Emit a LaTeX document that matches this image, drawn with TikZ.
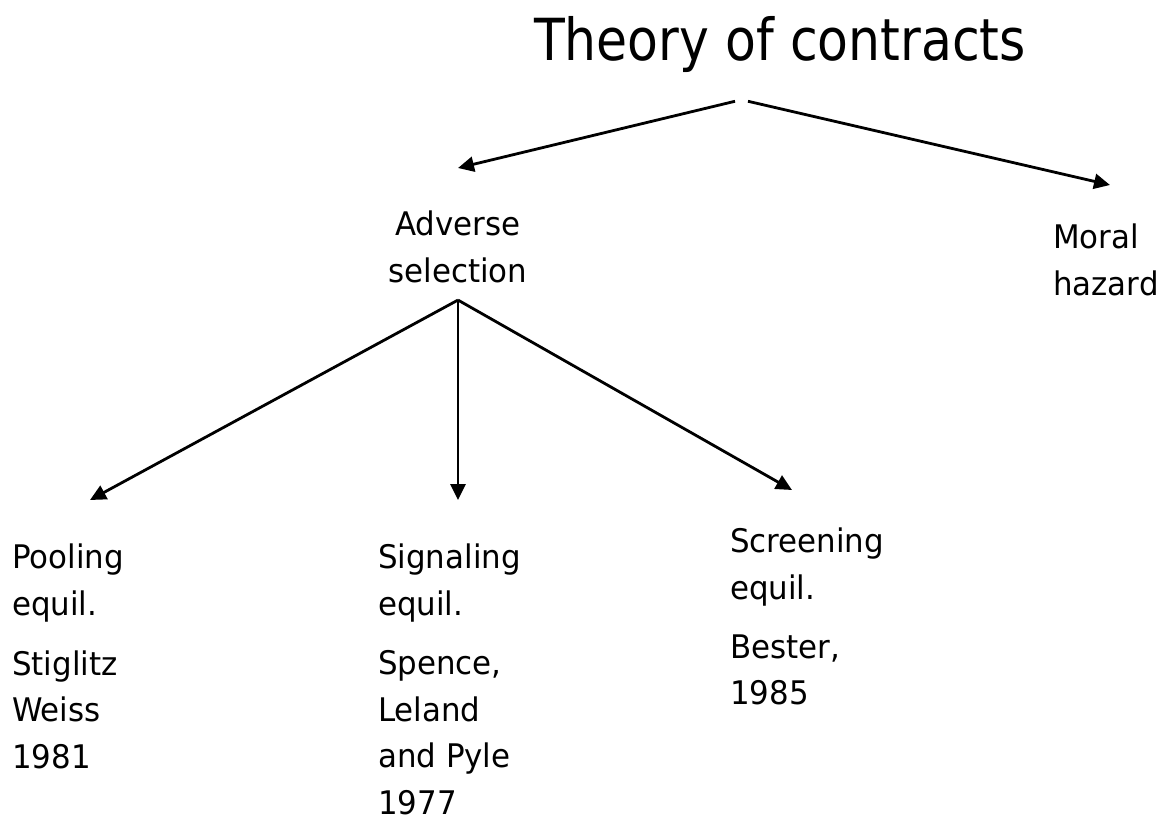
\documentclass[tikz,border=0pt]{standalone}
\usepackage{fontspec}
\setmainfont{DejaVu Sans}[FakeStretch=0.95]
\newfontfamily\titlefont{DejaVu Sans}[FakeStretch=0.87]
\usepackage{tikz}
\usetikzlibrary{positioning, arrows.meta}
\tikzset{
  heading/.style = {
    inner sep=0pt,
    font=\titlefont\fontsize{58}{70}\selectfont
  },
  entry/.style = {
    inner sep=0pt,
    align=left,
    font=\fontsize{32.5}{46.5}\selectfont
  },
  arrow/.style = {
    -{Triangle[length=16pt, width=15pt]},
    line width=2.8pt
  },
}

\begin{document}
\begin{tikzpicture}[x=1pt, y=-1pt, node distance=28pt]
    \useasboundingbox (0,0) rectangle (1164,822);
    \node[heading, anchor=base] (title) at (780,60) {Theory of contracts};
    \node[entry, align=center, anchor=north] (adv)   at (458,211)  {Adverse\\selection};
    \node[entry, anchor=north west]          (moral) at (1053,224) {Moral\\hazard};
    \node[entry, anchor=north west]          (pool)  at (12,544)   {Pooling\\equil.};
    \node[entry, anchor=north west]          (sig)   at (378,544)  {Signaling\\equil.};
    \node[entry, anchor=north west]          (scr)   at (730,528)  {Screening\\equil.};
    \node[entry, below=of pool.south west, anchor=north west] (sw)  {Stiglitz\\Weiss\\1981};
    \node[entry, below=of sig.south west, anchor=north west]  (slp) {Spence,\\Leland\\and Pyle\\1977};
    \node[entry, below=of scr.south west, anchor=north west]  (bes) {Bester,\\1985};
    \draw[arrow] ([xshift=-45pt, yshift=-29pt]title.south) -- ([yshift=43pt]adv.north);
    \draw[arrow] ([xshift=-32pt, yshift=-29pt]title.south) -- ([xshift=57pt, yshift=39pt]moral.north west);
    \draw[arrow] ([yshift=-17pt]adv.south) -- ([xshift=78pt, yshift=44pt]pool.north west);
    \draw[arrow] ([yshift=-17pt]adv.south) -- ([xshift=80pt, yshift=44pt]sig.north west);
    \draw[arrow] ([yshift=-17pt]adv.south) -- ([xshift=62pt, yshift=38pt]scr.north west);
  \end{tikzpicture}
\end{document}
